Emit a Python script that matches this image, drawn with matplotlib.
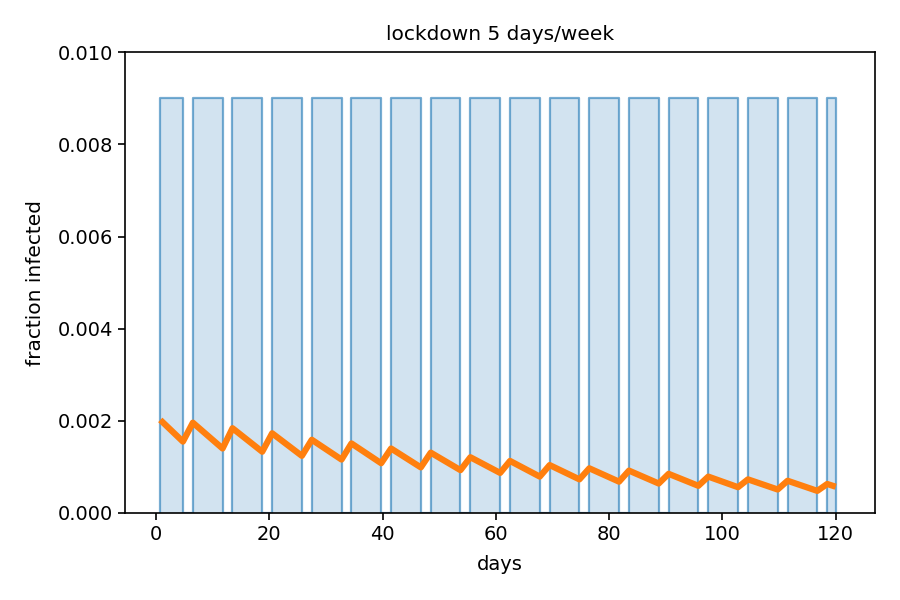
import numpy as np
import matplotlib
matplotlib.use("Agg")
import matplotlib.pyplot as plt
from matplotlib.ticker import FormatStrFormatter

# lockdown periods (days)
lockdown_start = [0.75, 6.5, 13.5, 20.5, 27.5, 34.5, 41.5, 48.5, 55.5,
                  62.5, 69.5, 76.5, 83.5, 90.5, 97.5, 104.5, 111.5, 118.5]
lockdown_end = [4.75, 11.75, 18.75, 25.75, 32.75, 39.75, 46.75, 53.75, 60.75,
                67.75, 74.75, 81.75, 88.75, 95.75, 102.75, 109.75, 116.75, 120.0]
lockdown_level = 0.009

# fraction infected at the turning points
infected_days = [0.75, 4.75, 6.5, 11.75, 13.5, 18.75, 20.5, 25.75, 27.5, 32.75,
                 34.5, 39.75, 41.5, 46.75, 48.5, 53.75, 55.5, 60.75, 62.5, 67.75,
                 69.5, 74.75, 76.5, 81.75, 83.5, 88.75, 90.5, 95.75, 97.5, 102.75,
                 104.5, 109.75, 111.5, 116.75, 118.5, 120.0]
infected_frac = [0.00202, 0.00155, 0.00196, 0.00140, 0.00184, 0.00133, 0.00173, 0.00124,
                 0.00159, 0.00116, 0.00151, 0.00108, 0.00140, 0.00099, 0.00131, 0.00093,
                 0.00121, 0.00087, 0.00113, 0.00079, 0.00104, 0.00073, 0.00097, 0.00068,
                 0.00092, 0.00064, 0.00085, 0.00059, 0.00079, 0.00056, 0.00073, 0.00051,
                 0.00070, 0.00048, 0.00063, 0.00057]

# build the on/off outline of the lockdown schedule
step_x, step_y = [], []
for s, e in zip(lockdown_start, lockdown_end):
    step_x += [s, s, e, e]
    step_y += [0, lockdown_level, lockdown_level, 0]

fig = plt.figure(figsize=(9, 6), dpi=100)
ax = fig.add_axes([0.139, 0.145, 0.833, 0.768])

ax.fill_between(step_x, step_y, color="C0", alpha=0.2, linewidth=0)
ax.plot(step_x, step_y, color="C0", alpha=0.6, linewidth=1.6)
ax.plot(infected_days, infected_frac, color="C1", linewidth=4.5, solid_capstyle="butt")

ax.set_xlim(-5.46, 126.9)
ax.set_ylim(0, 0.010)
ax.set_xticks([0, 20, 40, 60, 80, 100, 120])
ax.set_yticks([0, 0.002, 0.004, 0.006, 0.008, 0.010])
ax.yaxis.set_major_formatter(FormatStrFormatter("%.3f"))
ax.tick_params(labelsize=14, length=5, width=1.2)
for sp in ax.spines.values():
    sp.set_linewidth(1.2)

ax.set_xlabel("days", fontsize=14, labelpad=8)
ax.set_ylabel("fraction infected", fontsize=14.5, labelpad=9)
ax.set_title("lockdown 5 days/week", fontsize=14.5, pad=9)

plt.savefig("out.png", dpi=100)
plt.close(fig)
